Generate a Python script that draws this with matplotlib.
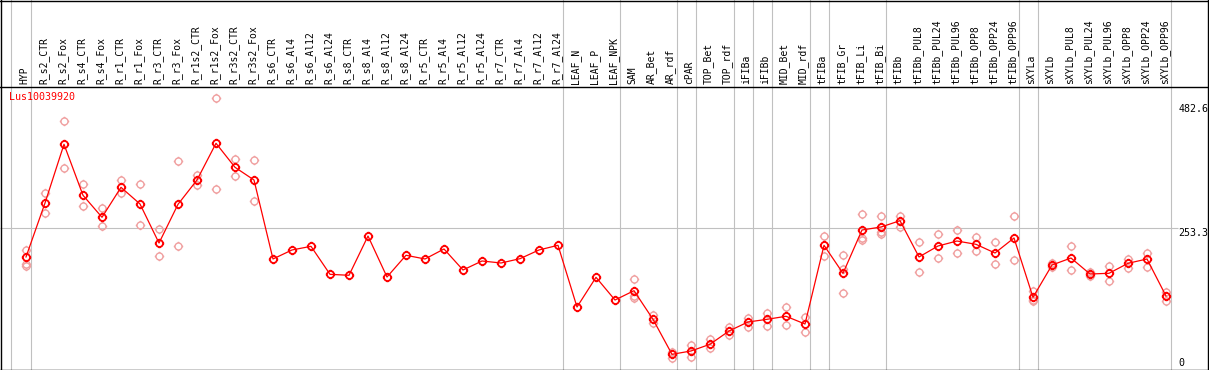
import matplotlib
matplotlib.use("Agg")
import matplotlib.pyplot as plt
from matplotlib.path import Path
from matplotlib.lines import Line2D
import matplotlib.transforms as mtransforms
import numpy as np

# ---------------- data ----------------
categories = [
    "HYP", "R_s2_CTR", "R_s2_Fox", "R_s4_CTR", "R_s4_Fox", "R_r1_CTR", "R_r1_Fox",
    "R_r3_CTR", "R_r3_Fox", "R_r1s2_CTR", "R_r1s2_Fox", "R_r3s2_CTR", "R_r3s2_Fox",
    "R_s6_CTR", "R_s6_Al4", "R_s6_Al12", "R_s6_Al24", "R_s8_CTR", "R_s8_Al4",
    "R_s8_Al12", "R_s8_Al24", "R_r5_CTR", "R_r5_Al4", "R_r5_Al12", "R_r5_Al24",
    "R_r7_CTR", "R_r7_Al4", "R_r7_Al12", "R_r7_Al24", "LEAF_N", "LEAF_P", "LEAF_NPK",
    "SAM", "AR_Bet", "AR_rdf", "cPAR", "TOP_Bet", "TOP_rdf", "iFIBa", "iFIBb",
    "MID_Bet", "MID_rdf", "tFIBa", "tFIB_Gr", "tFIB_Li", "tFIB_Bi", "tFIBb",
    "tFIBb_PUL8", "tFIBb_PUL24", "tFIBb_PUL96", "tFIBb_OPP8", "tFIBb_OPP24",
    "tFIBb_OPP96", "sXYLa", "sXYLb", "sXYLb_PUL8", "sXYLb_PUL24", "sXYLb_PUL96",
    "sXYLb_OPP8", "sXYLb_OPP24", "sXYLb_OPP96",
]

means = [
    197.6, 302.4, 416.5, 317.4, 274.7, 332.9, 300.5, 224.7, 299.9, 347.1, 418.4,
    371.8, 347.1, 193.7, 211.2, 218.3, 163.9, 162.0, 238.3, 158.7, 200.9, 193.7,
    213.1, 172.3, 189.8, 185.9, 194.3, 211.2, 220.3, 100.4, 158.1, 114.0, 132.1,
    76.5, 8.5, 15.0, 28.0, 53.8, 71.3, 76.5, 82.4, 67.4, 220.3, 165.9, 250.0,
    255.8, 268.1, 197.6, 218.9, 228.6, 222.2, 205.3, 234.5, 119.3, 182.0, 195.6,
    164.5, 165.9, 185.3, 193.7, 121.8,
]

replicates = [
    [211.2, 184.0, 180.1], [321.9, 282.4], [462.3, 369.9], [339.4, 296.6],
    [292.2, 257.2], [347.1, 321.3], [339.4, 259.1], [251.9, 199.5], [383.4, 218.9],
    [357.4, 336.8], [505.8, 329.1], [387.9, 354.9], [385.4, 306.3],
    [], [], [], [], [], [], [], [], [], [], [], [], [], [], [], [], [], [], [],
    [154.8, 122.4, 118.5], [84.3, 69.9], [13.6, 1.9], [26.6, 3.9], [37.7, 20.2],
    [62.2, 46.6], [79.6, 62.2], [89.4, 64.1], [100.4, 66.0], [81.0, 51.3],
    [238.9, 200.1], [200.9, 127.0, 174.2], [280.5, 235.0, 230.6],
    [276.6, 246.7, 242.2], [276.6, 256.4], [226.7, 168.4], [241.6, 195.6],
    [250.0, 204.7], [237.0, 208.6], [226.7, 183.4], [276.6, 191.7],
    [131.5, 114.0, 111.5], [186.5, 178.7], [218.9, 172.3], [169.0, 161.2],
    [180.7, 150.4], [193.1, 176.8], [205.9, 178.7], [130.1, 112.1],
]

group_sizes = [1, 28, 3, 3, 1, 2, 1, 1, 2, 1, 3, 7, 1, 7]
gene_label = "Lus10039920"
mid_value = 253.3
zero_value = 0
top_label = "482.6"

# ---------------- layout ----------------
W, H = 1209, 370
fig = plt.figure(figsize=(W / 100, H / 100), dpi=100)
ax = fig.add_axes([0, 0, 1, 1])
ax.set_axis_off()

X0, DX = 26.0, 19.0      # pixel of first category, pixel step
Y0, KY = 358.7, 0.5148   # pixel row of value 0, pixels per unit

def px2x(px):
    return (px - X0) / DX

def py2v(py):
    return (Y0 - py) / KY

ax.set_xlim(px2x(0), px2x(W))
ax.set_ylim(py2v(H), py2v(0))

GRAY = "#c0c0c0"
PALE = "#f0a0a0"
RED = "#ff0000"
MONO = "DejaVu Sans Mono"

# group separators (vertical) and mid reference line
bounds = [-0.78] + list(np.cumsum(group_sizes) - 1 + 0.25)
for b in bounds:
    ax.axvline(b, color=GRAY, lw=0.8, zorder=1)
ax.hlines(mid_value, px2x(0), px2x(1178), color=GRAY, lw=0.8, zorder=1)

# frame lines
def fline(x1, y1, x2, y2):
    fig.add_artist(Line2D([x1 / W, x2 / W], [1 - y1 / H, 1 - y2 / H],
                          color="black", lw=1.0, transform=fig.transFigure))

fline(0, 0.5, W, 0.5)
fline(0, 86.5, W, 86.5)
fline(0, 369.5, W, 369.5)
fline(0.8, 0, 0.8, H)
fline(1207.5, 0, 1207.5, H)

# marker: circle with small ticks
circ = Path.unit_circle()
t = 1.35
ticks = Path([(0, 1), (0, t), (0, -1), (0, -t), (1, 0), (t, 0), (-1, 0), (-t, 0)],
             [Path.MOVETO, Path.LINETO] * 4)
mk = Path.make_compound_path(circ, ticks)

x = np.arange(len(categories))
for i, reps in enumerate(replicates):
    if reps:
        ax.plot([i] * len(reps), reps, ls="none", marker=mk, ms=6.8,
                mfc="none", mec=PALE, mew=1.0, zorder=2)
ax.plot(x, means, color=RED, lw=0.9, zorder=3)
ax.plot(x, means, ls="none", marker=mk, ms=6.8, mfc="none", mec=RED,
        mew=1.3, zorder=4)

# category labels (rotated)
for i, c in enumerate(categories):
    ax.text(i - 0.08, py2v(83.5), c, rotation=90, ha="center", va="bottom",
            family=MONO, fontsize=7, color="black")

# gene label
ax.text(px2x(9.5), py2v(99.5), gene_label, ha="left", va="baseline",
        family=MONO, fontsize=7.2, color=RED)

# right-side value labels
xl = px2x(1178.5)
off = mtransforms.offset_copy(ax.transData, fig=fig, y=-7.5, units="dots")
ax.text(xl, mid_value, f"{mid_value}", transform=off, ha="left", va="baseline",
        family=MONO, fontsize=7.2, color="black")
ax.text(xl, zero_value, f"{zero_value}", transform=off, ha="left", va="baseline",
        family=MONO, fontsize=7.2, color="black")
ax.text(xl, py2v(112), top_label, ha="left", va="baseline",
        family=MONO, fontsize=7.2, color="black")

fig.savefig("out.png", dpi=100, facecolor="white")
